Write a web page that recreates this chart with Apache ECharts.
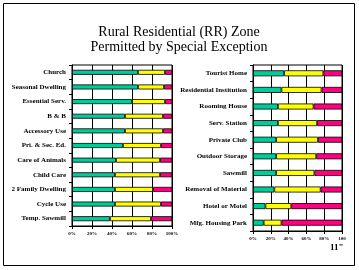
<!DOCTYPE html>
<html>
<head>
<meta charset="utf-8">
<script src="https://cdn.jsdelivr.net/npm/echarts@6/dist/echarts.min.js"></script>
<style>
  html, body { margin: 0; padding: 0; background: #fff; }
  #chart { width: 359px; height: 270px; }
</style>
</head>
<body>
<div id="chart"></div>
<script>
// left panel
const leftCats = ['Church', 'Seasonal Dwelling', 'Essential Serv.', 'B & B', 'Accessory Use',
  'Pri. & Sec. Ed.', 'Care of Animals', 'Child Care', '2 Family Dwelling', 'Cycle Use', 'Temp. Sawmill'];
const leftGreen = [66, 66, 60, 53, 53, 51, 44, 43, 43, 43, 38];
const leftYellow = [27, 26, 33, 38, 38, 38, 44, 45, 38, 46, 41];
const leftPink = [7, 8, 7, 9, 9, 11, 12, 12, 19, 11, 21];

// right panel
const rightCats = ['Tourist Home', 'Residential Institution', 'Rooming House', 'Serv. Station',
  'Private Club', 'Outdoor Storage', 'Sawmill', 'Removal of Material', 'Hotel or Motel', 'Mfg. Housing Park'];
const rightGreen = [35, 32, 28, 28, 26, 26, 26, 24, 14, 12];
const rightYellow = [44, 45, 40, 44, 47, 45, 43, 52, 29, 20];
const rightPink = [21, 23, 32, 28, 27, 29, 31, 24, 57, 68];

const leftTicks = ['0%', '20%', '40%', '60%', '80%', '100%'];
const rightTicks = ['0%', '20%', '40%', '60%', '80%', '100'];

const colors = ['#00CC99', '#FFFF00', '#FF0080'];
const serif = '"Liberation Serif", "DejaVu Serif", serif';

let chartDom = document.getElementById('chart');
let myChart = echarts.init(chartDom);

function xAx(gi, ticks) {
  return {
    gridIndex: gi, type: 'value', min: 0, max: 100, interval: 20,
    axisLine: { show: true, lineStyle: { color: '#000', width: 1 } },
    axisTick: { show: true, length: 3, lineStyle: { color: '#000' } },
    splitLine: { show: true, lineStyle: { color: '#000', width: 1 } },
    axisLabel: {
      margin: 5, fontSize: 5, fontWeight: 'bold', fontFamily: serif, color: '#000',
      formatter: v => ticks[v / 20]
    }
  };
}

function yAx(gi, cats) {
  return {
    gridIndex: gi, type: 'category', data: cats, inverse: true,
    axisLine: { show: true, lineStyle: { color: '#000', width: 1 } },
    axisTick: { show: true, length: 3, inside: false, lineStyle: { color: '#000' } },
    splitLine: { show: false },
    axisLabel: { margin: 6, fontSize: 7, fontWeight: 'bold', fontFamily: serif, color: '#000' }
  };
}

function bars(gi, data, width) {
  return data.map((d, i) => ({
    type: 'bar', stack: 's' + gi, xAxisIndex: gi, yAxisIndex: gi,
    data: d, barWidth: width,
    itemStyle: { color: colors[i], borderColor: '#000', borderWidth: 0.8 }
  }));
}

let option = {
  animation: false,
  backgroundColor: '#fff',
  title: {
    text: 'Rural Residential (RR) Zone\nPermitted by Special Exception',
    left: 174, top: 20, textAlign: 'center',
    textStyle: { fontFamily: serif, fontSize: 14, fontWeight: 'normal', color: '#000', lineHeight: 15 }
  },
  graphic: [
    { type: 'rect', shape: { x: 3.5, y: 3.5, width: 351, height: 262 },
      style: { fill: 'none', stroke: '#000', lineWidth: 1 } },
    { type: 'text', left: 330, top: 243,
      style: { text: '11"', font: 'bold 9px ' + serif, fill: '#000' } }
  ],
  grid: [
    { left: 72, top: 65, width: 100, height: 161, show: true, borderColor: '#000', borderWidth: 1 },
    { left: 253, top: 65, width: 89, height: 166, show: true, borderColor: '#000', borderWidth: 1 }
  ],
  xAxis: [xAx(0, leftTicks), xAx(1, rightTicks)],
  yAxis: [yAx(0, leftCats), yAx(1, rightCats)],
  series: [
    ...bars(0, [leftGreen, leftYellow, leftPink], 5),
    ...bars(1, [rightGreen, rightYellow, rightPink], 6)
  ]
};

option && myChart.setOption(option);
</script>
</body>
</html>
